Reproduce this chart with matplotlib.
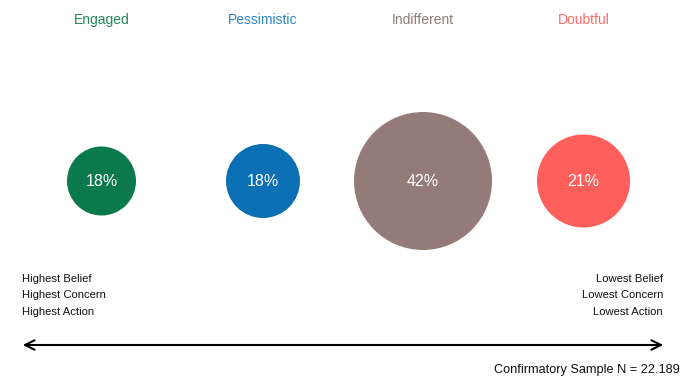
import matplotlib.pyplot as plt
from matplotlib.patches import Circle

plt.rcParams["font.family"] = ["Liberation Sans", "DejaVu Sans"]

# segments, shares and bubble radius
segments = ["Engaged", "Pessimistic", "Indifferent", "Doubtful"]
shares = [18, 18, 42, 21]
bubble_radius = [34.5, 37, 69, 46.5]
colors = ["#0b7a4b", "#0a6fb3", "#957b77", "#ff5f5b"]
title_colors = ["#1f8a55", "#2a84c6", "#907c79", "#ff6b66"]

left_labels = ["Highest Belief", "Highest Concern", "Highest Action"]
right_labels = ["Lowest Belief", "Lowest Concern", "Lowest Action"]
sample_note = "Confirmatory Sample N = 22.189"

fig = plt.figure(figsize=(6.87, 3.77), dpi=100)
ax = fig.add_axes([0, 0, 1, 1])
ax.set_xlim(0, 687)
ax.set_ylim(377, 0)
ax.set_aspect("equal")
ax.axis("off")

x_centers = [101.5, 263, 423, 583.5]
y_center = 181

for x, seg, share, r, c, tc in zip(x_centers, segments, shares, bubble_radius, colors, title_colors):
    ax.add_patch(Circle((x, y_center), r, color=c, lw=0))
    ax.text(x, y_center, f"{share}%", color="white", fontsize=11.5,
            ha="center", va="center")
    ax.text(x, 20, seg, color=tc, fontsize=10, ha="center", va="center")

for i, (lt, rt) in enumerate(zip(left_labels, right_labels)):
    y = 279 + i * 16.5
    ax.text(22, y, lt, fontsize=8.1, ha="left", va="center", color="#111111")
    ax.text(663, y, rt, fontsize=8.1, ha="right", va="center", color="#111111")

ax.annotate("", xy=(20, 345), xytext=(666, 345),
            arrowprops=dict(arrowstyle="<->", lw=1.5, color="black",
                            mutation_scale=17))

ax.text(680, 376, sample_note, fontsize=9.2, ha="right", va="bottom",
        color="#111111")

fig.savefig("out.png", dpi=100)
